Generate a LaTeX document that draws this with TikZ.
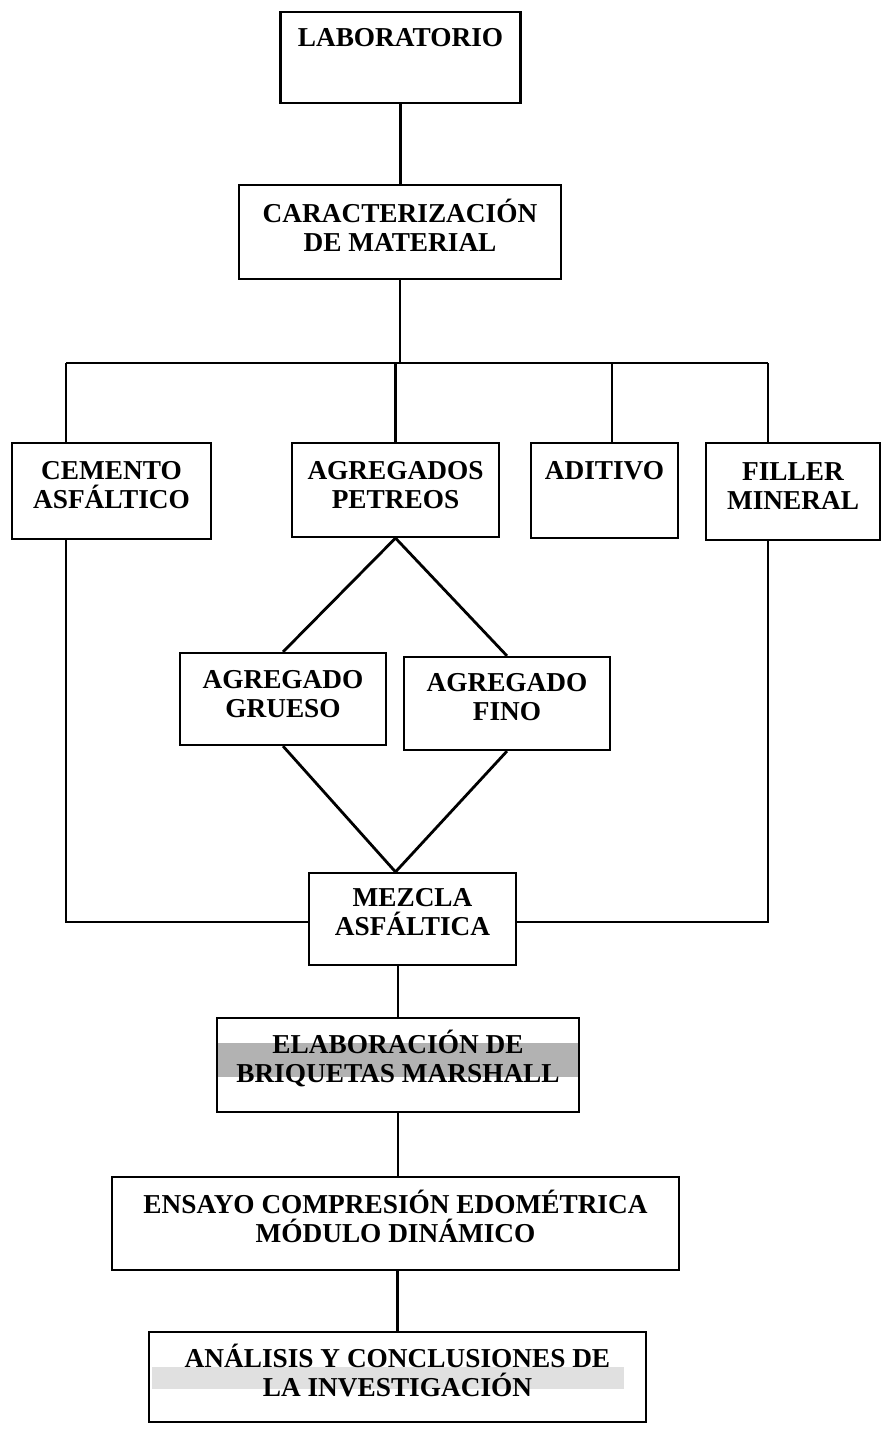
\documentclass[tikz,border=0pt]{standalone}
\usepackage{fontspec}
\setmainfont{Liberation Serif}
\newcommand{\boxtext}[4]{\parbox[c][#2][c]{#1}{\centering #4\par\vspace*{#3}}}
\tikzset{
  box/.style={draw, line width=2.2pt, inner sep=0pt, font=\fontsize{27.3}{29}\selectfont\bfseries},
  link/.style={line width=2.8pt},
}
\begin{document}
\begin{tikzpicture}[x=1pt, y=-1pt]
\useasboundingbox (0,0) rectangle (882,1430);
% scan shading bands
\fill[black!30] (217,1043) rectangle (579,1077);
\fill[black!12] (152,1367) rectangle (624,1389);
% boxes
\node[box] (lab) at (400.5,57.5) {\boxtext{240pt}{91pt}{40pt}{LABORATORIO}};
\node[box] (car) at (400,232) {\boxtext{322pt}{94pt}{14pt}{CARACTERIZACIÓN\\DE MATERIAL}};
\node[box] (cem) at (111.5,491) {\boxtext{199pt}{96pt}{12pt}{CEMENTO\\ASFÁLTICO}};
\node[box] (agr) at (395.5,490) {\boxtext{207pt}{94pt}{10pt}{AGREGADOS\\PETREOS}};
\node[box] (adi) at (604.5,490.5) {\boxtext{147pt}{95pt}{40pt}{ADITIVO}};
\node[box] (fil) at (793,491.5) {\boxtext{174pt}{97pt}{10pt}{FILLER\\MINERAL}};
\node[box] (gru) at (283,699) {\boxtext{206pt}{92pt}{10pt}{AGREGADO\\GRUESO}};
\node[box] (fin) at (507,703.5) {\boxtext{206pt}{93pt}{12pt}{AGREGADO\\FINO}};
\node[box] (mez) at (412.5,919) {\boxtext{207pt}{92pt}{14pt}{MEZCLA\\ASFÁLTICA}};
\node[box] (ela) at (398,1065) {\boxtext{362pt}{94pt}{14pt}{ELABORACIÓN DE\\BRIQUETAS MARSHALL}};
\node[box] (ens) at (395.5,1223.5) {\boxtext{567pt}{93pt}{14pt}{ENSAYO COMPRESIÓN EDOMÉTRICA\\MÓDULO DINÁMICO}};
\node[box] (ana) at (397.5,1377) {\boxtext{497pt}{90pt}{14pt}{ANÁLISIS Y CONCLUSIONES DE\\LA INVESTIGACIÓN}};
% junction points
\coordinate (bl) at (66,363);
\coordinate (br) at (768,363);
\coordinate (ad) at (612,363);
\coordinate (cl) at (66,922);
\coordinate (cr) at (768,922);
% connectors
\draw[link] (lab.south) -- (lab.south |- car.north);
\draw[link] (car.south) -- (car.south |- bl);
\draw[link] (bl) -- (br);
\draw[link] (bl) -- (bl |- cem.north);
\draw[link] (agr.north |- bl) -- (agr.north);
\draw[link] (ad) -- (ad |- adi.north);
\draw[link] (br) -- (br |- fil.north);
\draw[link] (agr.south) -- (gru.north);
\draw[link] (agr.south) -- (fin.north);
\draw[link] (gru.south) -- (agr.south |- mez.north) -- (fin.south);
\draw[link] (cl |- cem.south) -- (cl) -- (cl -| mez.west);
\draw[link] (cr |- fil.south) -- (cr) -- (cr -| mez.east);
\draw[link] (ela.north |- mez.south) -- (ela.north);
\draw[link] (ela.south) -- (ela.south |- ens.north);
\draw[link] (ana.north |- ens.south) -- (ana.north);
\end{tikzpicture}
\end{document}
